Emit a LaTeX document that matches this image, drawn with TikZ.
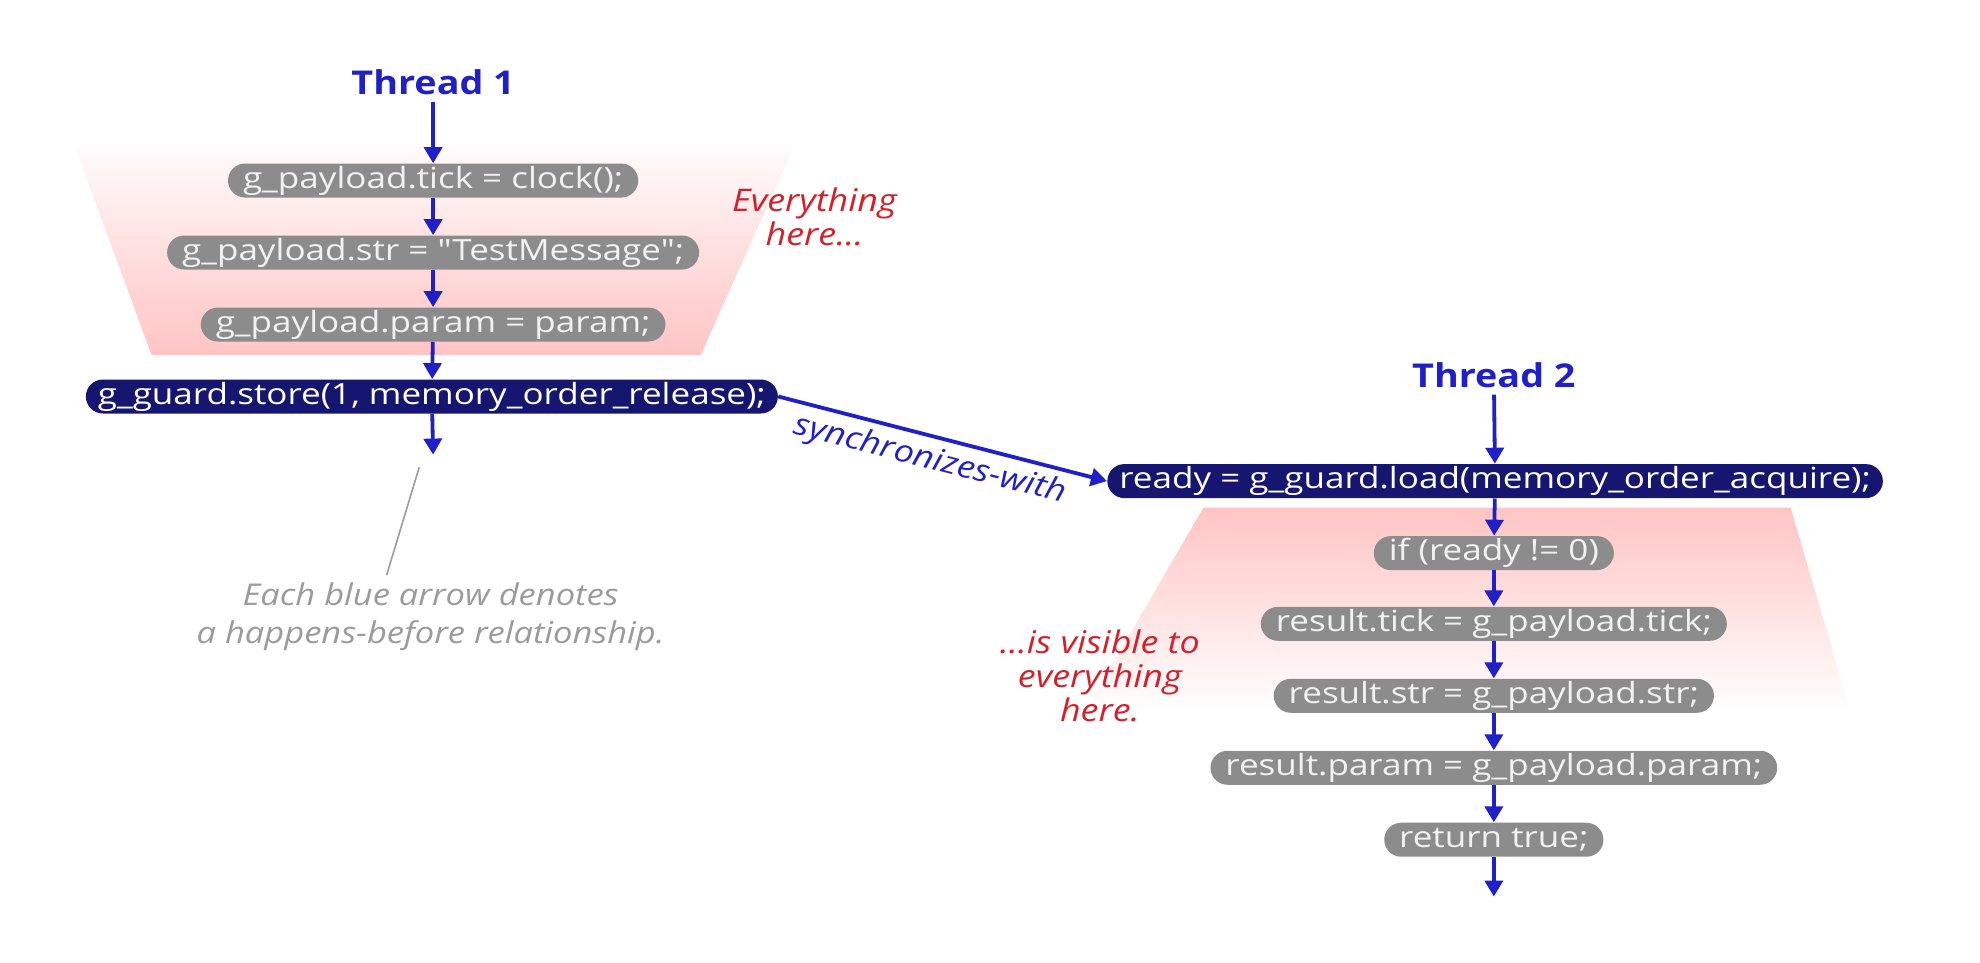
\documentclass[tikz,border=0pt]{standalone}
\usepackage{fontspec}
\setmainfont[FakeStretch=1.15]{Open Sans}
\newfontfamily\codefont[FakeStretch=1.2]{Open Sans}
\usetikzlibrary{arrows.meta,positioning}
\definecolor{hbblue}{RGB}{32,32,200}
\definecolor{relnavy}{RGB}{22,22,112}
\definecolor{codegray}{RGB}{140,140,140}
\definecolor{notered}{RGB}{212,32,42}
\definecolor{notegray}{RGB}{155,155,155}
\definecolor{zonepink}{RGB}{255,196,196}

\tikzset{
  stmt/.style={fill=codegray, text=white!90!gray, rounded corners=8.5pt,
    inner xsep=7.5pt, inner ysep=0pt, minimum height=17pt,
    font=\codefont\fontsize{14.6}{16}\selectfont},
  syncstmt/.style={stmt, fill=relnavy, text=white, inner xsep=6pt},
  hb/.style={-{Triangle[width=9pt,length=8pt]}, hbblue, line width=1.9pt},
  thread/.style={text=hbblue, font=\bfseries\fontsize{16.4}{18}\selectfont},
  remark/.style={text=notered, align=center,
    font=\itshape\fontsize{15.6}{17}\selectfont},
  legend/.style={text=notegray, align=center,
    font=\itshape\fontsize{15}{19}\selectfont}
}

\begin{document}
\begin{tikzpicture}[x=0.6314pt,y=-0.6314pt]
  \useasboundingbox (0,0) rectangle (1568,762);

  % Visibility zones
  \shade[top color=zonepink!8, bottom color=zonepink]
    (60,118) -- (628,118) -- (555,281) -- (120,281) -- cycle;
  \shade[top color=zonepink, bottom color=white]
    (953,402) -- (1418,402) -- (1465,562) -- (860,562) -- cycle;

  % Thread 1
  \node[thread] (t1) at (343,65) {Thread 1};
  \node[stmt] (a1) at (343,143) {g\_payload.tick = clock();};
  \node[stmt] (a2) at (343,200) {g\_payload.str = "TestMessage";};
  \node[stmt] (a3) at (343,257) {g\_payload.param = param;};
  \node[syncstmt] (rel) at (342,314) {g\_guard.store(1, memory\_order\_release);};
  \coordinate (end1) at (343,360);

  % Thread 2
  \node[thread] (t2) at (1183,297) {Thread 2};
  \node[syncstmt] (acq) at (1184,381) {ready = g\_guard.load(memory\_order\_acquire);};
  \node[stmt] (b1) at (1183,438) {if (ready != 0)};
  \node[stmt] (b2) at (1183,494) {result.tick = g\_payload.tick;};
  \node[stmt] (b3) at (1183,551) {result.str = g\_payload.str;};
  \node[stmt] (b4) at (1183,608) {result.param = g\_payload.param;};
  \node[stmt] (b5) at (1183,665) {return true;};
  \coordinate (end2) at (1183,710);

  % Happens-before arrows
  \foreach \u/\v in {t1/a1,a1/a2,a2/a3,a3/rel,rel/end1,
                     t2/acq,acq/b1,b1/b2,b2/b3,b3/b4,b4/b5,b5/end2}
    \draw[hb] (\u) -- (\v);
  \draw[hb] (rel.east) -- node[sloped, below, pos=0.48, text=hbblue,
    font=\itshape\fontsize{15.5}{17}\selectfont] {synchronizes-with} (acq.west);

  % Remarks
  \node[remark] (here1) at (645,172) {Everything\\here...};
  \node[remark] (here2) at (871,535) {...is visible to\\everything\\here.};
  \node[legend] (legend) at (341,488) {Each blue arrow denotes\\a happens-before relationship.};
  \coordinate (tip) at (332,370);
  \draw[notegray, line width=0.8pt] (tip) -- ([xshift=-22pt]legend.north);
\end{tikzpicture}
\end{document}
